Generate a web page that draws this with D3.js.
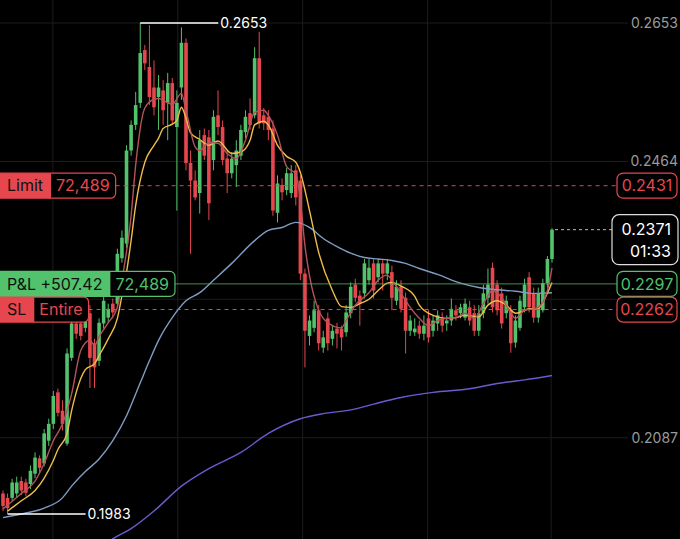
<!DOCTYPE html>
<html>
<head>
<meta charset="utf-8">
<script src="https://cdn.jsdelivr.net/npm/d3@7"></script>
<style>
	html, body { margin: 0; padding: 0; background: #000; }
	svg { display: block; }
	text { font-family: Inter, "Noto Sans", sans-serif; }
</style>
</head>
<body>
<div id="chart"></div>
<script>
// CANDLES: [open, high, low, close]
const candles = [
	[0.2011, 0.2015, 0.1987, 0.1994], [0.2005, 0.2011, 0.1983, 0.1991], [0.2005, 0.2031, 0.2001, 0.2026],
	[0.2011, 0.2034, 0.2005, 0.2026], [0.2028, 0.2034, 0.2009, 0.2015], [0.2026, 0.2031, 0.2007, 0.2012],
	[0.2024, 0.2049, 0.2017, 0.2042], [0.2038, 0.2067, 0.2032, 0.2060], [0.2059, 0.2063, 0.2039, 0.2046],
	[0.2052, 0.2099, 0.2048, 0.2093], [0.2083, 0.2113, 0.2076, 0.2106], [0.2106, 0.2151, 0.2099, 0.2144],
	[0.2149, 0.2154, 0.2116, 0.2121], [0.2124, 0.2138, 0.2097, 0.2106], [0.2079, 0.2209, 0.2076, 0.2202],
	[0.2196, 0.2250, 0.2192, 0.2243], [0.2243, 0.2250, 0.2222, 0.2229], [0.2243, 0.2247, 0.2220, 0.2226],
	[0.2237, 0.2263, 0.2231, 0.2257], [0.2257, 0.2268, 0.2155, 0.2196], [0.2216, 0.2222, 0.2155, 0.2183],
	[0.2192, 0.2250, 0.2185, 0.2244], [0.2243, 0.2280, 0.2236, 0.2274], [0.2251, 0.2270, 0.2244, 0.2263],
	[0.2270, 0.2277, 0.2250, 0.2258], [0.2270, 0.2345, 0.2265, 0.2338], [0.2332, 0.2370, 0.2326, 0.2360],
	[0.2352, 0.2486, 0.2346, 0.2479], [0.2479, 0.2520, 0.2472, 0.2514], [0.2514, 0.2559, 0.2507, 0.2541],
	[0.2544, 0.2653, 0.2537, 0.2612], [0.2616, 0.2623, 0.2589, 0.2598], [0.2593, 0.2650, 0.2541, 0.2552],
	[0.2565, 0.2602, 0.2527, 0.2538], [0.2552, 0.2582, 0.2507, 0.2565], [0.2561, 0.2575, 0.2514, 0.2534],
	[0.2544, 0.2585, 0.2493, 0.2571], [0.2571, 0.2578, 0.2514, 0.2520], [0.2511, 0.2561, 0.2397, 0.2544],
	[0.2565, 0.2647, 0.2548, 0.2626], [0.2626, 0.2632, 0.2452, 0.2462], [0.2462, 0.2479, 0.2338, 0.2438],
	[0.2438, 0.2452, 0.2411, 0.2415], [0.2421, 0.2507, 0.2393, 0.2493], [0.2500, 0.2509, 0.2466, 0.2472],
	[0.2497, 0.2507, 0.2384, 0.2407], [0.2466, 0.2534, 0.2452, 0.2525], [0.2527, 0.2561, 0.2500, 0.2511],
	[0.2511, 0.2520, 0.2459, 0.2466], [0.2468, 0.2479, 0.2421, 0.2448], [0.2448, 0.2477, 0.2441, 0.2468],
	[0.2459, 0.2493, 0.2429, 0.2479], [0.2472, 0.2514, 0.2466, 0.2507], [0.2504, 0.2534, 0.2496, 0.2525],
	[0.2530, 0.2550, 0.2507, 0.2514], [0.2527, 0.2620, 0.2523, 0.2605], [0.2605, 0.2641, 0.2509, 0.2516],
	[0.2527, 0.2537, 0.2507, 0.2516], [0.2525, 0.2534, 0.2493, 0.2507], [0.2509, 0.2520, 0.2390, 0.2397],
	[0.2394, 0.2445, 0.2381, 0.2434], [0.2432, 0.2441, 0.2411, 0.2422], [0.2425, 0.2455, 0.2418, 0.2448],
	[0.2421, 0.2459, 0.2414, 0.2448], [0.2452, 0.2459, 0.2404, 0.2415], [0.2438, 0.2445, 0.2302, 0.2311],
	[0.2311, 0.2318, 0.2183, 0.2233], [0.2226, 0.2254, 0.2213, 0.2247], [0.2237, 0.2274, 0.2231, 0.2261],
	[0.2261, 0.2268, 0.2206, 0.2216], [0.2210, 0.2233, 0.2203, 0.2224], [0.2250, 0.2258, 0.2206, 0.2216],
	[0.2222, 0.2240, 0.2213, 0.2233], [0.2236, 0.2244, 0.2209, 0.2229], [0.2236, 0.2240, 0.2206, 0.2224],
	[0.2231, 0.2268, 0.2225, 0.2258], [0.2257, 0.2299, 0.2250, 0.2293], [0.2296, 0.2304, 0.2272, 0.2278],
	[0.2281, 0.2288, 0.2240, 0.2270], [0.2284, 0.2331, 0.2277, 0.2325], [0.2302, 0.2331, 0.2296, 0.2319],
	[0.2325, 0.2331, 0.2277, 0.2288], [0.2306, 0.2331, 0.2299, 0.2325], [0.2325, 0.2331, 0.2288, 0.2311],
	[0.2311, 0.2331, 0.2302, 0.2325], [0.2313, 0.2322, 0.2261, 0.2278], [0.2274, 0.2302, 0.2268, 0.2293],
	[0.2293, 0.2302, 0.2258, 0.2263], [0.2278, 0.2285, 0.2202, 0.2233], [0.2233, 0.2254, 0.2226, 0.2247],
	[0.2231, 0.2250, 0.2226, 0.2236], [0.2240, 0.2247, 0.2222, 0.2229], [0.2229, 0.2254, 0.2220, 0.2240],
	[0.2250, 0.2261, 0.2217, 0.2224], [0.2233, 0.2254, 0.2225, 0.2247], [0.2243, 0.2261, 0.2233, 0.2254],
	[0.2250, 0.2258, 0.2231, 0.2240], [0.2243, 0.2254, 0.2233, 0.2247], [0.2247, 0.2277, 0.2240, 0.2263],
	[0.2261, 0.2268, 0.2247, 0.2254], [0.2257, 0.2270, 0.2250, 0.2265], [0.2251, 0.2277, 0.2247, 0.2270],
	[0.2265, 0.2274, 0.2240, 0.2247], [0.2257, 0.2268, 0.2226, 0.2233], [0.2233, 0.2268, 0.2226, 0.2257],
	[0.2257, 0.2296, 0.2250, 0.2284], [0.2278, 0.2318, 0.2270, 0.2296], [0.2319, 0.2326, 0.2258, 0.2265],
	[0.2296, 0.2302, 0.2254, 0.2261], [0.2284, 0.2292, 0.2236, 0.2243], [0.2257, 0.2281, 0.2250, 0.2274],
	[0.2261, 0.2268, 0.2203, 0.2216], [0.2217, 0.2254, 0.2210, 0.2247], [0.2237, 0.2281, 0.2233, 0.2274],
	[0.2265, 0.2304, 0.2258, 0.2296], [0.2306, 0.2313, 0.2258, 0.2265], [0.2284, 0.2292, 0.2244, 0.2251],
	[0.2251, 0.2292, 0.2244, 0.2284], [0.2261, 0.2304, 0.2258, 0.2298], [0.2298, 0.2335, 0.2292, 0.2331],
	[0.2331, 0.2373, 0.2326, 0.2371]
];

// MOVING AVERAGES: [candle index, price]
const fastMA = [
	[0, 0.1990], [4, 0.2011], [7, 0.2028], [9, 0.2052], [11, 0.2083], [13, 0.2106], [15, 0.2147],
	[17, 0.2206], [19, 0.2220], [20, 0.2213], [21, 0.2225], [23, 0.2244], [25, 0.2265], [26, 0.2302],
	[28, 0.2390], [29, 0.2459], [31, 0.2537], [33, 0.2549], [34, 0.2550], [36, 0.2544], [37, 0.2542],
	[39, 0.2557], [40, 0.2534], [42, 0.2484], [43, 0.2479], [45, 0.2490], [47, 0.2489], [49, 0.2475],
	[51, 0.2468], [53, 0.2493], [55, 0.2531], [57, 0.2534], [58, 0.2527], [60, 0.2500], [62, 0.2457],
	[64, 0.2447], [65, 0.2411], [66, 0.2349], [67, 0.2308], [69, 0.2261], [71, 0.2244], [74, 0.2237],
	[75, 0.2247], [77, 0.2268], [80, 0.2285], [82, 0.2302], [84, 0.2309], [85, 0.2302], [87, 0.2284],
	[89, 0.2265], [91, 0.2250], [93, 0.2240], [95, 0.2247], [97, 0.2250], [99, 0.2251], [101, 0.2257],
	[103, 0.2250], [105, 0.2270], [107, 0.2288], [109, 0.2278], [111, 0.2257], [112, 0.2250],
	[114, 0.2261], [116, 0.2263], [117, 0.2265], [119, 0.2288], [120, 0.2319]
];
const midMA = [
	[1, 0.1987], [4, 0.2001], [7, 0.2015], [9, 0.2032], [11, 0.2056], [12, 0.2071], [14, 0.2093],
	[15, 0.2124], [16, 0.2149], [18, 0.2180], [20, 0.2188], [21, 0.2199], [23, 0.2222], [25, 0.2250],
	[26, 0.2281], [27, 0.2313], [28, 0.2356], [29, 0.2404], [31, 0.2463], [33, 0.2486], [34, 0.2496],
	[35, 0.2509], [37, 0.2515], [38, 0.2520], [39, 0.2538], [40, 0.2523], [41, 0.2503], [43, 0.2494],
	[45, 0.2486], [47, 0.2492], [50, 0.2475], [52, 0.2477], [54, 0.2493], [55, 0.2514], [57, 0.2519],
	[58, 0.2514], [60, 0.2486], [62, 0.2471], [64, 0.2463], [65, 0.2449], [66, 0.2425], [67, 0.2397],
	[69, 0.2340], [72, 0.2288], [74, 0.2266], [76, 0.2265], [78, 0.2270], [80, 0.2276], [82, 0.2288],
	[84, 0.2298], [85, 0.2299], [87, 0.2294], [90, 0.2280], [91, 0.2268], [94, 0.2254], [97, 0.2250],
	[99, 0.2251], [101, 0.2254], [104, 0.2252], [106, 0.2268], [108, 0.2274], [110, 0.2268],
	[112, 0.2257], [113, 0.2258], [115, 0.2263], [117, 0.2263], [118, 0.2272], [120, 0.2299]
];
const slowMA = [
	[0, 0.1978], [4, 0.1983], [9, 0.1991], [13, 0.2005], [15, 0.2021], [18, 0.2041], [21, 0.2058],
	[24, 0.2083], [27, 0.2117], [30, 0.2162], [32, 0.2192], [34, 0.2220], [37, 0.2251], [40, 0.2274],
	[43, 0.2285], [46, 0.2302], [50, 0.2325], [55, 0.2356], [58, 0.2370], [61, 0.2374], [64, 0.2381],
	[67, 0.2374], [70, 0.2359], [73, 0.2348], [76, 0.2339], [79, 0.2333], [82, 0.2331], [85, 0.2329],
	[88, 0.2325], [91, 0.2318], [95, 0.2310], [100, 0.2298], [104, 0.2292], [108, 0.2289],
	[112, 0.2287], [116, 0.2284], [120, 0.2285]
];
const longMA = [
	[20, 0.1930], [24, 0.1949], [28, 0.1963], [33, 0.1987], [39, 0.2021], [45, 0.2045], [52, 0.2067],
	[58, 0.2093], [65, 0.2113], [70, 0.2120], [76, 0.2125], [81, 0.2133], [87, 0.2142], [94, 0.2149],
	[102, 0.2154], [108, 0.2161], [114, 0.2166], [120, 0.2172]
];

// AXIS
const priceGrid = [0.2653, 0.2464, 0.2276, 0.2087];
const priceLabels = [0.2653, 0.2464, 0.2087];
const timeGrid = [10.9, 38.2, 65.5, 92.8, 119.8];

// ORDERS
const orderPrices = [0.2431, 0.2297, 0.2262];
const orderTags = ["Limit", "P&L +507.42", "SL"];
const orderValues = ["72,489", "72,489", "Entire"];
const countdown = "01:33";

const W = 680, H = 539;
const GREEN = "#52c26c", RED = "#e6474f";

const svg = d3.select("#chart").append("svg")
	.attr("width", W).attr("height", H)
	.style("background", "#000");

const x = d3.scaleLinear().domain([0, candles.length - 1]).range([3, 552]);
const y = d3.scaleLinear().domain([0.1983, 0.2653]).range([514, 23]);

// GRID
svg.append("g").selectAll("line").data(priceGrid).join("line")
	.attr("x1", 0).attr("x2", 628)
	.attr("y1", d => y(d)).attr("y2", d => y(d))
	.attr("stroke", "#1c1c1c");
svg.append("g").selectAll("line").data(timeGrid).join("line")
	.attr("x1", d => x(d)).attr("x2", d => x(d))
	.attr("y1", 0).attr("y2", H)
	.attr("stroke", "#1c1c1c");

// RIGHT AXIS LABELS
svg.append("g").selectAll("text").data(priceLabels).join("text")
	.attr("x", 678).attr("y", d => y(d)).attr("dy", "0.35em")
	.attr("text-anchor", "end")
	.attr("fill", "#9a9a9a").attr("font-size", 14)
	.text(d => d.toFixed(4));

// CANDLES
const bw = 3.6;
const cg = svg.append("g");
cg.selectAll("line").data(candles).join("line")
	.attr("x1", (d, i) => x(i)).attr("x2", (d, i) => x(i))
	.attr("y1", d => y(d[1])).attr("y2", d => y(d[2]))
	.attr("stroke", d => d[3] >= d[0] ? GREEN : RED)
	.attr("stroke-width", 1);
cg.selectAll("rect").data(candles).join("rect")
	.attr("x", (d, i) => x(i) - bw / 2)
	.attr("width", bw)
	.attr("y", d => y(Math.max(d[0], d[3])))
	.attr("height", d => Math.max(1, Math.abs(y(d[0]) - y(d[3]))))
	.attr("fill", d => d[3] >= d[0] ? GREEN : RED);

// MOVING AVERAGES
const maLine = d3.line().x(d => x(d[0])).y(d => y(d[1])).curve(d3.curveMonotoneX);
[[longMA, "#6a5bd0"], [slowMA, "#7f9dc2"], [midMA, "#efbd48"], [fastMA, "#b3545b"]].forEach(function (m) {
	svg.append("path").datum(m[0])
		.attr("fill", "none")
		.attr("stroke", m[1])
		.attr("stroke-width", 1.4)
		.attr("d", maLine);
});

// HIGH / LOW MARKERS
const hiIdx = d3.maxIndex(candles, d => d[1]);
const loIdx = d3.minIndex(candles, d => d[2]);
[[hiIdx, candles[hiIdx][1]], [loIdx, candles[loIdx][2]]].forEach(function (m) {
	const mx = x(m[0]), my = y(m[1]);
	svg.append("line")
		.attr("x1", mx).attr("x2", mx + 78)
		.attr("y1", my).attr("y2", my)
		.attr("stroke", "#fff").attr("stroke-width", 1.5);
	svg.append("text")
		.attr("x", mx + 80).attr("y", my).attr("dy", "0.35em")
		.attr("fill", "#fff").attr("font-size", 14)
		.text(m[1].toFixed(4));
});

// ORDER LINES
orderPrices.forEach(function (p, i) {
	const cy = y(p);
	const col = i === 1 ? GREEN : RED;
	const g = svg.append("g");

	const outer = g.append("rect");
	const fill = g.append("rect");
	const tag = g.append("text")
		.attr("x", 7).attr("y", cy).attr("dy", "0.36em")
		.attr("fill", "#111").attr("font-size", 16)
		.text(orderTags[i]);
	const tagW = 7 + tag.node().getComputedTextLength() + 8;
	const val = g.append("text")
		.attr("x", tagW + 5).attr("y", cy).attr("dy", "0.36em")
		.attr("fill", col).attr("font-size", 16)
		.text(orderValues[i]);
	const end = tagW + 5 + val.node().getComputedTextLength() + 6;

	outer.attr("x", -8).attr("y", cy - 12.5).attr("width", end + 8).attr("height", 25)
		.attr("rx", 5).attr("fill", "#000").attr("stroke", col).attr("stroke-width", 1.2);
	fill.attr("x", -8).attr("y", cy - 12.5).attr("width", tagW + 8).attr("height", 25)
		.attr("fill", col);

	g.append("line")
		.attr("x1", end).attr("x2", 617)
		.attr("y1", cy).attr("y2", cy)
		.attr("stroke", col).attr("stroke-width", 1)
		.attr("stroke-opacity", i === 1 ? 0.75 : 1)
		.attr("stroke-dasharray", i === 1 ? null : "4,4");

	g.append("rect")
		.attr("x", 617).attr("y", cy - 12.5).attr("width", 60).attr("height", 25)
		.attr("rx", 6).attr("fill", "#000").attr("stroke", col).attr("stroke-width", 1.2);
	g.append("text")
		.attr("x", 647).attr("y", cy).attr("dy", "0.36em")
		.attr("text-anchor", "middle")
		.attr("fill", col).attr("font-size", 16)
		.text(p.toFixed(4));
});

// CURRENT PRICE
const last = candles.length - 1;
const cur = candles[last][3];
svg.append("line")
	.attr("x1", x(last) + 3).attr("x2", 612)
	.attr("y1", y(cur)).attr("y2", y(cur))
	.attr("stroke", "#bbb").attr("stroke-dasharray", "3,3");
svg.append("rect")
	.attr("x", 612).attr("y", y(cur) - 15).attr("width", 66).attr("height", 50)
	.attr("rx", 7).attr("fill", "#000").attr("stroke", "#ddd").attr("stroke-width", 1.2);
svg.append("text")
	.attr("x", 671).attr("y", y(cur)).attr("dy", "0.36em")
	.attr("text-anchor", "end").attr("fill", "#fff").attr("font-size", 16)
	.text(cur.toFixed(4));
svg.append("text")
	.attr("x", 671).attr("y", y(cur) + 22).attr("dy", "0.36em")
	.attr("text-anchor", "end").attr("fill", "#fff").attr("font-size", 16)
	.text(countdown);
</script>
</body>
</html>
